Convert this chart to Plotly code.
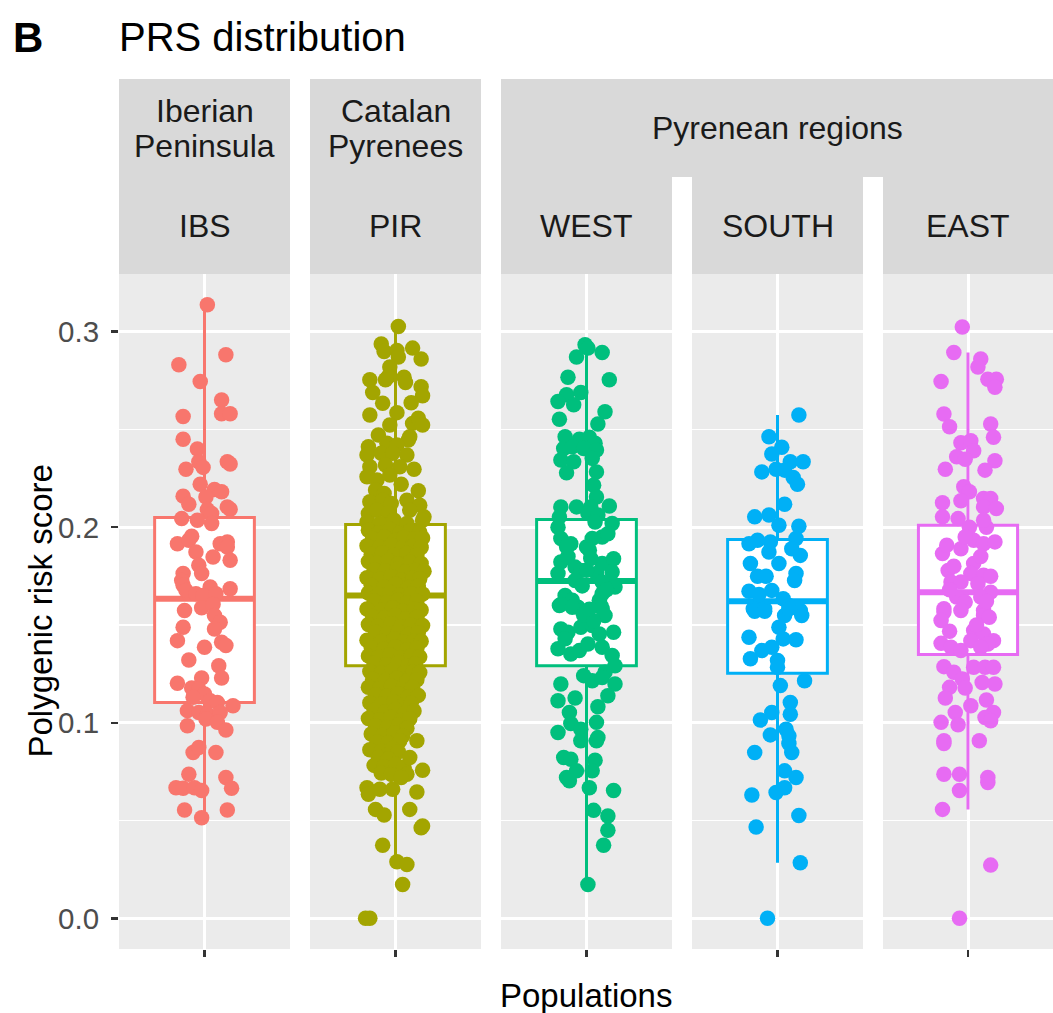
import plotly.graph_objects as go

W, H = 1053, 1013

# ---------------- data ----------------
groups = ["IBS", "PIR", "WEST", "SOUTH", "EAST"]
colors = ["#F8766D", "#A3A500", "#00BF7D", "#00B0F6", "#E76BF3"]

box_q1 = [0.1104, 0.1292, 0.1292, 0.1253, 0.1349]
box_median = [0.1634, 0.1651, 0.1725, 0.1622, 0.1668]
box_q3 = [0.2050, 0.2014, 0.2039, 0.1937, 0.2010]
box_lower = [0.0514, 0.0275, 0.0173, 0.0284, 0.0557]
box_upper = [0.3138, 0.3027, 0.2925, 0.2574, 0.2894]

y_tick_vals = [0.0, 0.1, 0.2, 0.3]
y_tick_text = ["0.0", "0.1", "0.2", "0.3"]
y_minor_vals = [0.05, 0.15, 0.25]

ibs_y = [0.3138, 0.2882, 0.2831, 0.2745, 0.2651, 0.2580, 0.2580, 0.2566, 0.2450, 0.2400,
         0.2335, 0.2306, 0.2335, 0.2323, 0.2296, 0.2220, 0.2193, 0.2181, 0.2159, 0.2118,
         0.2155, 0.2090, 0.2070, 0.2104, 0.2092, 0.2044, 0.2036, 0.2019, 0.1916, 0.1954,
         0.1933, 0.1873, 0.1916, 0.1925, 0.1899, 0.1848, 0.1831, 0.1805, 0.1763, 0.1763,
         0.1728, 0.1703, 0.1694, 0.1685, 0.1677, 0.1660, 0.1651, 0.1660, 0.1574, 0.1588,
         0.1605, 0.1549, 0.1514, 0.1480, 0.1488, 0.1420, 0.1386, 0.1412, 0.1395, 0.1321,
         0.1292, 0.1229, 0.1202, 0.1229, 0.1178, 0.1172, 0.1147, 0.1130, 0.1113, 0.1104,
         0.1087, 0.1062, 0.1053, 0.1044, 0.1053, 0.0985, 0.1019, 0.1002, 0.0963, 0.0848,
         0.0873, 0.0848, 0.0737, 0.0720, 0.0665, 0.0668, 0.0665, 0.0668, 0.0654, 0.0554,
         0.0554, 0.0514]
ibs_jitter = [0.02, 0.15, -0.18, -0.03, 0.12, 0.12, 0.18, -0.15, -0.15, -0.05,
              -0.04, -0.01, 0.16, 0.18, -0.13, -0.03, 0.07, 0.12, -0.15, -0.11,
              0.01, 0.02, 0.05, 0.16, 0.18, -0.16, -0.05, 0.05, -0.19, -0.09,
              -0.11, -0.06, 0.11, 0.16, 0.16, 0.06, 0.18, -0.04, -0.02, -0.15,
              -0.16, -0.15, 0.04, 0.18, -0.13, -0.06, -0.01, 0.08, -0.14, -0.02,
              0.06, 0.07, 0.11, 0.07, -0.15, -0.19, 0.00, 0.12, 0.15, -0.11,
              0.10, 0.12, -0.19, -0.02, -0.09, -0.04, 0.00, -0.08, 0.04, 0.09,
              0.20, -0.12, -0.04, 0.02, 0.11, -0.12, 0.01, 0.09, 0.15, -0.08,
              -0.04, 0.08, -0.11, 0.15, 0.19, -0.20, -0.15, -0.07, -0.02, -0.14,
              0.16, -0.02]

pir_y = [0.3027, 0.2937, 0.2899, 0.2904, 0.2870, 0.2916, 0.2860, 0.2819, 0.2771, 0.2754,
         0.2689, 0.2754, 0.2767, 0.2740, 0.2719, 0.2672, 0.2634, 0.2637, 0.2574, 0.2586,
         0.2523, 0.2531, 0.2557, 0.2523, 0.2472, 0.2463, 0.2446, 0.2412, 0.2429, 0.2421,
         0.2369, 0.2378, 0.2378, 0.2369, 0.2309, 0.2318, 0.2309, 0.2296, 0.2258, 0.2241,
         0.2267, 0.2220, 0.2186, 0.2190, 0.2172, 0.2130, 0.2138, 0.2121, 0.2138, 0.2113,
         0.2070, 0.2087, 0.2070, 0.2087, 0.2053, 0.2027, 0.2019, 0.2036, 0.2019, 0.2036,
         0.1985, 0.1972, 0.1990, 0.1968, 0.1981, 0.1975,
         0.1942, 0.1950, 0.1933, 0.1947, 0.1938, 0.1945,
         0.1905, 0.1897, 0.1910, 0.1893, 0.1902, 0.1896,
         0.1862, 0.1870, 0.1855, 0.1866, 0.1858,
         0.1825, 0.1818, 0.1830, 0.1812, 0.1822, 0.1815,
         0.1783, 0.1776, 0.1788, 0.1772, 0.1780, 0.1775,
         0.1742, 0.1735, 0.1748, 0.1730, 0.1740, 0.1737,
         0.1703, 0.1696, 0.1708, 0.1692, 0.1700,
         0.1664, 0.1656, 0.1668, 0.1652, 0.1660, 0.1658,
         0.1623, 0.1615, 0.1628, 0.1612, 0.1620,
         0.1582, 0.1575, 0.1588, 0.1572, 0.1580, 0.1577,
         0.1543, 0.1536, 0.1548, 0.1532, 0.1540,
         0.1502, 0.1495, 0.1508, 0.1492, 0.1500, 0.1497,
         0.1463, 0.1456, 0.1468, 0.1452, 0.1460,
         0.1422, 0.1415, 0.1428, 0.1412, 0.1420, 0.1417,
         0.1383, 0.1376, 0.1388, 0.1372, 0.1380,
         0.1342, 0.1335, 0.1348, 0.1332, 0.1340, 0.1337,
         0.1303, 0.1296, 0.1308, 0.1292, 0.1300,
         0.1262, 0.1255, 0.1268, 0.1252, 0.1260, 0.1257,
         0.1223, 0.1216, 0.1228, 0.1212, 0.1220,
         0.1182, 0.1175, 0.1188, 0.1172, 0.1180,
         0.1143, 0.1136, 0.1148, 0.1132, 0.1140,
         0.1102, 0.1095, 0.1108, 0.1092, 0.1100,
         0.1063, 0.1056, 0.1068, 0.1052, 0.1060,
         0.1022, 0.1015, 0.1028, 0.1012, 0.1020,
         0.0983, 0.0976, 0.0988, 0.0972,
         0.0942, 0.0935, 0.0948, 0.0932,
         0.0903, 0.0896, 0.0908,
         0.0862, 0.0855, 0.0868, 0.0852,
         0.0823, 0.0816,
         0.0782, 0.0775, 0.0788, 0.0772,
         0.0743, 0.0736,
         0.0668, 0.0634, 0.0660, 0.0660, 0.0646, 0.0757, 0.0822, 0.0908, 0.0737, 0.0720,
         0.0557, 0.0528, 0.0557, 0.0463, 0.0472, 0.0374, 0.0289, 0.0275, 0.0173, 0.0000,
         0.0000]
pir_jitter = [0.02, -0.10, -0.08, 0.01, 0.02, 0.12, 0.18, -0.04, -0.05, -0.18,
              -0.16, -0.07, 0.06, 0.07, 0.18, 0.19, -0.09, 0.11, -0.18, 0.01,
              -0.04, 0.12, 0.16, 0.19, -0.12, 0.10, 0.09, -0.19, -0.06, 0.01,
              -0.20, -0.10, -0.02, 0.08, -0.18, -0.07, 0.03, 0.13, -0.20, -0.13,
              -0.04, 0.04, 0.16, -0.14, -0.08, -0.18, -0.09, -0.03, 0.08, 0.17,
              -0.19, -0.13, -0.05, 0.10, 0.20, -0.20, -0.11, -0.01, 0.08, 0.19,
              -0.19, -0.12, -0.04, 0.03, 0.10, 0.17,
              -0.16, -0.08, 0.00, 0.06, 0.13, 0.19,
              -0.20, -0.11, -0.03, 0.05, 0.12, 0.18,
              -0.17, -0.09, -0.01, 0.08, 0.15,
              -0.19, -0.13, -0.05, 0.02, 0.10, 0.18,
              -0.15, -0.07, 0.01, 0.07, 0.14, 0.20,
              -0.20, -0.11, -0.03, 0.04, 0.12, 0.17,
              -0.17, -0.08, 0.00, 0.09, 0.16,
              -0.19, -0.12, -0.04, 0.03, 0.11, 0.19,
              -0.15, -0.06, 0.02, 0.08, 0.15,
              -0.20, -0.10, -0.02, 0.05, 0.13, 0.18,
              -0.16, -0.08, 0.00, 0.07, 0.15,
              -0.19, -0.12, -0.03, 0.04, 0.11, 0.19,
              -0.14, -0.06, 0.02, 0.09, 0.16,
              -0.20, -0.10, -0.01, 0.06, 0.13, 0.18,
              -0.17, -0.08, 0.00, 0.08, 0.15,
              -0.19, -0.12, -0.04, 0.03, 0.11, 0.17,
              -0.15, -0.06, 0.02, 0.09, 0.14,
              -0.18, -0.10, -0.02, 0.06, 0.12, 0.17,
              -0.16, -0.07, 0.01, 0.08, 0.15,
              -0.19, -0.11, -0.03, 0.05, 0.12,
              -0.14, -0.06, 0.02, 0.09, 0.16,
              -0.18, -0.10, -0.01, 0.06, 0.11,
              -0.15, -0.07, 0.00, 0.07, 0.13,
              -0.19, -0.11, -0.03, 0.04, 0.10,
              -0.14, -0.06, 0.02, 0.08,
              -0.17, -0.09, -0.01, 0.05,
              -0.13, -0.05, 0.03,
              -0.18, -0.10, -0.02, 0.02,
              -0.12, -0.05,
              -0.15, -0.08, 0.00, 0.06,
              -0.10, -0.03,
              -0.20, -0.19, -0.11, -0.02, 0.15, 0.19, 0.10, 0.15, 0.08, 0.04,
              -0.14, -0.08, 0.10, 0.18, 0.19, -0.09, 0.01, 0.08, 0.05, -0.21,
              -0.18]

west_y = [0.2933, 0.2916, 0.2870, 0.2894, 0.2767, 0.2754, 0.2677, 0.2643, 0.2626, 0.2689,
          0.2591, 0.2528, 0.2552, 0.2463, 0.2450, 0.2460, 0.2429, 0.2403, 0.2412, 0.2403,
          0.2395, 0.2344, 0.2335, 0.2352, 0.2278, 0.2283, 0.2215, 0.2155, 0.2104, 0.2104,
          0.2104, 0.2108, 0.2053, 0.2070, 0.2062, 0.2000, 0.2027, 0.2019, 0.1942, 0.1916,
          0.1942, 0.1950, 0.1967, 0.1899, 0.1882, 0.1822, 0.1796, 0.1814, 0.1839, 0.1763,
          0.1779, 0.1763, 0.1771, 0.1728, 0.1720, 0.1694, 0.1651, 0.1626, 0.1660, 0.1626,
          0.1600, 0.1591, 0.1583, 0.1605, 0.1591, 0.1600, 0.1549, 0.1480, 0.1463, 0.1488,
          0.1497, 0.1454, 0.1463, 0.1378, 0.1352, 0.1369, 0.1403, 0.1386, 0.1344, 0.1292,
          0.1258, 0.1241, 0.1215, 0.1232, 0.1198, 0.1138, 0.1198, 0.1127, 0.1113, 0.1082,
          0.1053, 0.0996, 0.1002, 0.0967, 0.0950, 0.0908, 0.0925, 0.0908, 0.0822, 0.0813,
          0.0808, 0.0754, 0.0754, 0.0720, 0.0703, 0.0668, 0.0654, 0.0552, 0.0523, 0.0450,
          0.0374, 0.0173,
          0.1850, 0.1780, 0.1700, 0.1550, 0.1520, 0.1430, 0.1680, 0.1580, 0.1900, 0.1840]
west_jitter = [-0.01, 0.01, -0.07, 0.11, -0.13, 0.16, -0.14, -0.20, -0.09, -0.04,
               0.13, 0.08, -0.19, -0.15, -0.05, 0.02, 0.06, -0.16, -0.10, -0.02,
               0.07, -0.18, -0.09, 0.04, -0.14, 0.07, 0.05, 0.07, -0.18, -0.07,
               0.03, 0.16, -0.19, 0.01, 0.08, -0.20, 0.06, 0.18, -0.18, -0.11,
               0.04, 0.11, 0.15, 0.00, 0.02, -0.18, -0.08, 0.11, 0.19, -0.20,
               -0.04, 0.07, 0.18, -0.08, 0.11, 0.20, -0.15, -0.10, 0.11, 0.09,
               -0.19, -0.06, 0.11, -0.18, -0.10, 0.10, 0.13, -0.18, -0.13, -0.04,
               0.04, 0.09, 0.19, -0.20, -0.11, -0.05, 0.01, 0.11, 0.18, 0.20,
               0.13, -0.02, 0.04, 0.11, 0.20, 0.15, -0.18, -0.08, -0.20, 0.08,
               -0.12, -0.11, 0.07, -0.04, -0.20, -0.04, 0.08, 0.07, -0.16, -0.11,
               0.06, -0.07, 0.04, -0.14, -0.12, 0.02, 0.19, 0.05, 0.15, 0.15,
               0.12, 0.01,
               -0.13, 0.00, -0.03, -0.02, 0.05, -0.15, 0.14, 0.02, -0.14, 0.03]

south_y = [0.2574, 0.2463, 0.2409, 0.2374, 0.2335, 0.2335, 0.2283, 0.2296, 0.2292, 0.2254,
           0.2220, 0.2118, 0.2053, 0.2062, 0.2010, 0.2005, 0.1916, 0.1933, 0.1925, 0.1942,
           0.1890, 0.1856, 0.1873, 0.1814, 0.1814, 0.1749, 0.1749, 0.1763, 0.1728, 0.1673,
           0.1656, 0.1677, 0.1634, 0.1583, 0.1583, 0.1574, 0.1600, 0.1570, 0.1570, 0.1549,
           0.1583, 0.1549, 0.1488, 0.1437, 0.1429, 0.1424, 0.1369, 0.1386, 0.1327, 0.1318,
           0.1284, 0.1215, 0.1190, 0.1104, 0.1044, 0.1053, 0.1014, 0.0967, 0.0933, 0.0938,
           0.0894, 0.0848, 0.0848, 0.0754, 0.0720, 0.0668, 0.0643, 0.0631, 0.0526, 0.0467,
           0.0284, 0.0000]
south_jitter = [0.15, -0.06, 0.03, -0.04, 0.09, 0.18, -0.11, -0.01, 0.05, 0.11,
                0.14, 0.05, -0.16, -0.06, 0.01, 0.15, -0.20, -0.14, -0.05, 0.13,
                0.10, 0.16, -0.06, 0.01, -0.19, -0.14, -0.08, 0.13, 0.12, -0.20,
                -0.13, -0.04, 0.04, -0.17, -0.09, 0.16, 0.08, -0.16, -0.09, 0.05,
                0.08, 0.17, 0.01, -0.20, 0.04, 0.13, -0.11, -0.04, -0.19, 0.00,
                0.00, 0.19, 0.02, 0.09, 0.09, -0.04, -0.12, 0.06, 0.08, -0.05,
                0.08, 0.10, -0.16, 0.05, 0.13, 0.05, -0.01, -0.18, 0.15, -0.15,
                0.16, -0.07]

east_y = [0.3024, 0.2894, 0.2860, 0.2819, 0.2745, 0.2757, 0.2757, 0.2716, 0.2579, 0.2514,
          0.2528, 0.2460, 0.2432, 0.2442, 0.2391, 0.2360, 0.2347, 0.2296, 0.2340, 0.2292,
          0.2207, 0.2181, 0.2125, 0.2135, 0.2147, 0.2147, 0.2104, 0.2096, 0.2053, 0.2044,
          0.2000, 0.2000, 0.2036, 0.1865, 0.1908, 0.1890, 0.1933, 0.1916, 0.1925, 0.1779,
          0.1814, 0.1763, 0.1754, 0.1749, 0.1720, 0.1720, 0.1711, 0.1668, 0.1643, 0.1617,
          0.1643, 0.1583, 0.1574, 0.1566, 0.1523, 0.1574, 0.1549, 0.1540, 0.1468, 0.1472,
          0.1454, 0.1420, 0.1403, 0.1406, 0.1386, 0.1369, 0.1420, 0.1386, 0.1287, 0.1258,
          0.1284, 0.1284, 0.1284, 0.1181, 0.1224, 0.1178, 0.1206, 0.1198, 0.1127, 0.1087,
          0.1116, 0.1053, 0.1027, 0.1010, 0.1053, 0.0990, 0.1002, 0.0908, 0.0894, 0.0908,
          0.0737, 0.0737, 0.0654, 0.0720, 0.0694, 0.0557, 0.0272, 0.0000,
          0.1850, 0.1800, 0.1620, 0.1500, 0.1950, 0.1680]
east_jitter = [-0.04, -0.10, 0.09, 0.07, -0.19, 0.14, 0.20, 0.19, -0.17, -0.13,
               0.16, 0.18, -0.05, 0.02, 0.04, -0.08, -0.02, -0.16, 0.19, 0.12,
               -0.03, 0.01, -0.18, -0.05, 0.11, 0.16, 0.11, 0.20, -0.18, -0.07,
               0.01, 0.13, 0.11, -0.18, -0.15, -0.05, 0.04, 0.11, 0.19, -0.14,
               0.04, 0.02, 0.11, 0.16, -0.12, -0.05, 0.07, 0.16, -0.08, -0.02,
               0.09, -0.17, 0.11, -0.17, -0.19, -0.05, 0.11, 0.15, -0.13, 0.04,
               0.11, 0.18, 0.14, -0.19, -0.12, -0.05, 0.02, 0.09, -0.17, -0.10,
               0.04, 0.12, 0.18, -0.13, -0.04, -0.02, 0.10, 0.19, -0.16, 0.02,
               0.13, 0.18, 0.12, 0.16, -0.09, -0.07, -0.19, -0.17, -0.17, 0.08,
               -0.17, -0.06, -0.06, 0.14, 0.14, -0.18, 0.16, -0.06,
               0.09, -0.10, 0.13, 0.06, -0.02, -0.13]

points_y = [ibs_y, pir_y, west_y, south_y, east_y]
points_jitter = [ibs_jitter, pir_jitter, west_jitter, south_jitter, east_jitter]

strip_top = ["Iberian<br>Peninsula", "Catalan<br>Pyrenees", "Pyrenean regions"]

# ---------------- layout constants (pixels) ----------------
panel_left = [119, 310, 501, 692, 883]
panel_w = 171
plot_top, plot_bot = 274, 949
strip_top_px, strip_mid_px = 79, 177
y_range = [-0.0157, 0.3295]
BOX_W = 0.7
FONT = "Liberation Sans, Arial, Helvetica, sans-serif"


def px_x(px):
    return px / W


def px_y(py):
    return 1 - py / H


fig = go.Figure()
layout = {}
for i, g in enumerate(groups):
    sfx = "" if i == 0 else str(i + 1)
    xa, ya = "x" + sfx, "y" + sfx
    c = colors[i]
    fig.add_trace(go.Box(
        x=[1], q1=[box_q1[i]], median=[box_median[i]], q3=[box_q3[i]],
        lowerfence=[box_lower[i]], upperfence=[box_upper[i]],
        width=BOX_W, whiskerwidth=0, fillcolor="white", boxpoints=False,
        line=dict(color=c, width=3), xaxis=xa, yaxis=ya, hoverinfo="skip",
        showlegend=False))
    fig.add_trace(go.Scatter(
        x=[1 - BOX_W / 2, 1 + BOX_W / 2], y=[box_median[i], box_median[i]],
        mode="lines", line=dict(color=c, width=6), xaxis=xa, yaxis=ya,
        hoverinfo="skip", showlegend=False))
    fig.add_trace(go.Scatter(
        x=[1 + j for j in points_jitter[i]], y=points_y[i], mode="markers",
        marker=dict(color=c, size=15.5, line=dict(width=0)),
        xaxis=xa, yaxis=ya, hoverinfo="skip", showlegend=False))

    left = panel_left[i]
    right = min(left + panel_w, W)
    layout["xaxis" + sfx] = dict(
        domain=[px_x(left), px_x(right)], range=[0.4, 1.6], tickvals=[1],
        showticklabels=False, ticks="outside", ticklen=7, tickwidth=2.5,
        tickcolor="#333333", showgrid=True, gridcolor="white", gridwidth=3,
        zeroline=False, showline=False, anchor=ya, fixedrange=True)
    yax = dict(
        domain=[px_y(plot_bot), px_y(plot_top)], range=y_range,
        tickvals=y_tick_vals, ticktext=y_tick_text, showgrid=True,
        gridcolor="white", gridwidth=3, zeroline=False, showline=False,
        minor=dict(tickvals=y_minor_vals, showgrid=True, gridcolor="white",
                   gridwidth=1.5, ticks=""),
        anchor=xa, fixedrange=True)
    if i == 0:
        yax.update(ticks="outside", ticklen=7, tickwidth=2.5, tickcolor="#333333",
                   tickfont=dict(family=FONT, size=29.5, color="#4D4D4D"),
                   ticklabelstandoff=6)
    else:
        yax.update(matches="y", showticklabels=False, ticks="")
    layout["yaxis" + sfx] = yax

shapes = []
strip_fill = "#D9D9D9"
for i in range(2):
    shapes.append(dict(type="rect", xref="paper", yref="paper",
                       x0=px_x(panel_left[i]), x1=px_x(panel_left[i] + panel_w),
                       y0=px_y(plot_top), y1=px_y(strip_top_px),
                       fillcolor=strip_fill, line=dict(width=0), layer="below"))
shapes.append(dict(type="rect", xref="paper", yref="paper",
                   x0=px_x(panel_left[2]), x1=1,
                   y0=px_y(strip_mid_px), y1=px_y(strip_top_px),
                   fillcolor=strip_fill, line=dict(width=0), layer="below"))
for i in range(2, 5):
    shapes.append(dict(type="rect", xref="paper", yref="paper",
                       x0=px_x(panel_left[i]), x1=min(1, px_x(panel_left[i] + panel_w)),
                       y0=px_y(plot_top), y1=px_y(strip_mid_px),
                       fillcolor=strip_fill, line=dict(width=0), layer="below"))

ann = []
strip_font = dict(family=FONT, size=32, color="#1A1A1A")


def add_text(text, xpx, ypx, font, xanchor="center", angle=0):
    ann.append(dict(text=text, x=px_x(xpx), y=px_y(ypx), xref="paper", yref="paper",
                    showarrow=False, xanchor=xanchor, yanchor="middle",
                    font=font, textangle=angle))


for i in range(2):
    cx = panel_left[i] + panel_w / 2
    l1, l2 = strip_top[i].split("<br>")
    add_text(l1, cx, 111, strip_font)
    add_text(l2, cx, 146, strip_font)
add_text(strip_top[2], (panel_left[2] + W) / 2, 128, strip_font)
for i, g in enumerate(groups):
    cx = panel_left[i] + min(panel_w, W - panel_left[i]) / 2
    add_text(g, cx, 226, strip_font)

add_text("<b>B</b>", 11, 38, dict(family=FONT, size=42, color="black"), xanchor="left")
add_text("PRS distribution", 117, 37, dict(family=FONT, size=40, color="black"), xanchor="left")
add_text("Populations", (panel_left[0] + W) / 2, 995, dict(family=FONT, size=33, color="black"))
add_text("Polygenic risk score", 40, (plot_top + plot_bot) / 2,
         dict(family=FONT, size=33, color="black"), angle=-90)

fig.update_layout(
    width=W, height=H, margin=dict(l=0, r=0, t=0, b=0),
    paper_bgcolor="white", plot_bgcolor="#EBEBEB", showlegend=False,
    shapes=shapes, annotations=ann, font=dict(family=FONT), **layout)

fig.write_html("out.html",
               config={"displayModeBar": False, "staticPlot": True},
               post_script="document.body.style.margin='0px';"
                           "document.body.style.overflow='hidden';")
